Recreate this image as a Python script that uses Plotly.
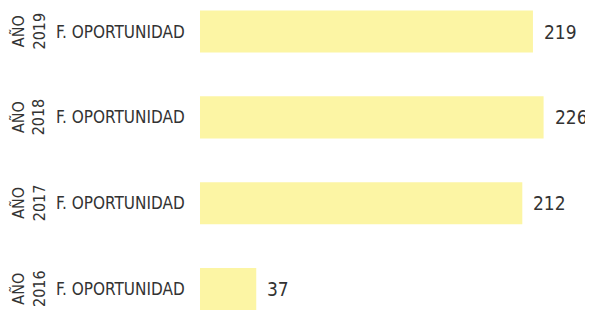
import plotly.graph_objects as go

years = ["2019", "2018", "2017", "2016"]
positions = [3, 2, 1, 0]
values = [219, 226, 212, 37]
category_label = "F. OPORTUNIDAD"

bar_color = "#FCF5A4"
text_color = "#333333"
font_main = "DejaVu Sans Condensed, Liberation Sans Narrow, sans-serif"

fig = go.Figure()
fig.add_trace(go.Bar(
    x=values, y=positions, orientation="h",
    marker=dict(color=bar_color, line=dict(width=0)),
    width=0.49, hoverinfo="skip",
))

annotations = []
for yr, p, v in zip(years, positions, values):
    annotations.append(dict(
        x=v, y=p, xref="x", yref="y", text=str(v), showarrow=False,
        xanchor="left", yanchor="middle", xshift=9,
        font=dict(family=font_main, size=19, color=text_color),
    ))
    annotations.append(dict(
        x=0, y=p, xref="paper", yref="y", text=category_label, showarrow=False,
        xanchor="right", yanchor="middle", xshift=-13,
        font=dict(family=font_main, size=17, color=text_color),
    ))
    annotations.append(dict(
        x=0, y=p, xref="paper", yref="y", text="AÑO<br>" + yr, showarrow=False,
        xanchor="center", yanchor="middle", xshift=-171, textangle=-90,
        font=dict(family=font_main, size=16, color=text_color),
    ))

# the page body adds an 8px offset, so the figure is sized to the remaining area
fig.update_layout(
    width=585, height=306,
    margin=dict(l=192, r=0, t=0, b=0),
    paper_bgcolor="white", plot_bgcolor="white",
    showlegend=False,
    xaxis=dict(range=[0, 258.5], visible=False, fixedrange=True),
    yaxis=dict(range=[-0.291, 3.274], visible=False, fixedrange=True),
    annotations=annotations,
)

fig.write_html("out.html")
